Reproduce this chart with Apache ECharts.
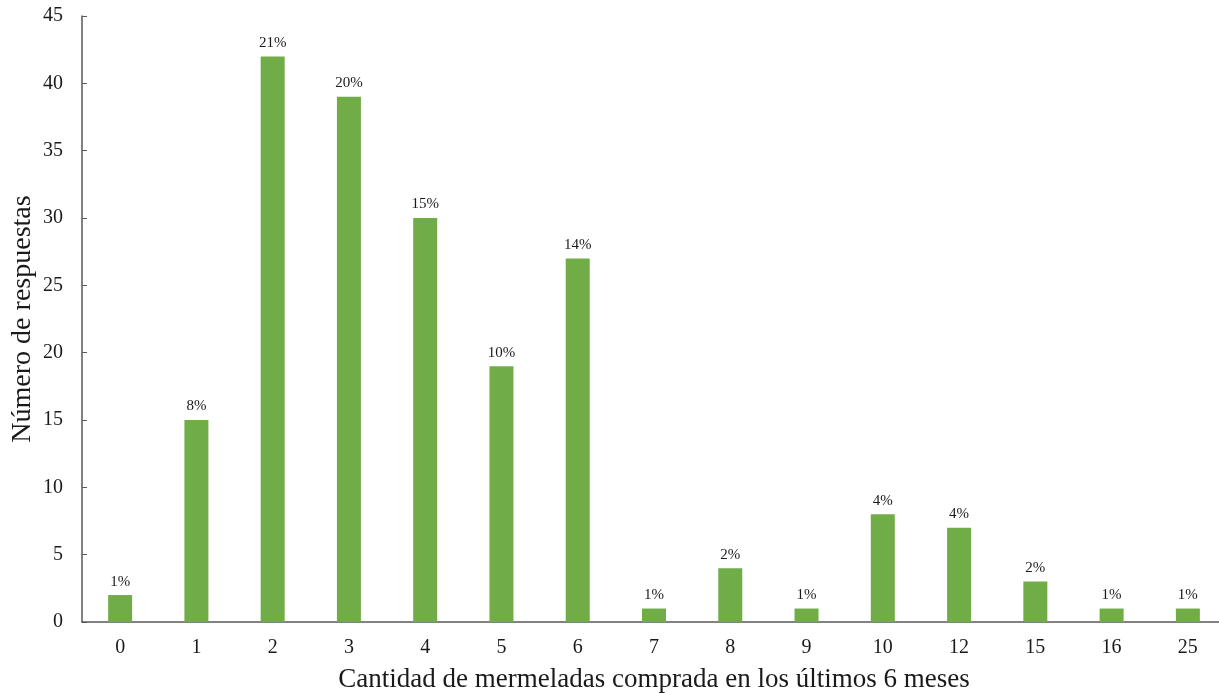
<!DOCTYPE html>
<html>
<head>
<meta charset="utf-8">
<script src="https://cdn.jsdelivr.net/npm/echarts@6/dist/echarts.min.js"></script>
<style>
  html, body { margin: 0; padding: 0; background: #fff; }
  #chart { width: 1219px; height: 693px; }
</style>
</head>
<body>
<div id="chart"></div>
<script>
// Jars of jam bought in the last 6 months: number of answers per quantity
const categories = ['0', '1', '2', '3', '4', '5', '6', '7', '8', '9', '10', '12', '15', '16', '25'];
const responses = [2, 15, 42, 39, 30, 19, 27, 1, 4, 1, 8, 7, 3, 1, 1];
const shareLabels = ['1%', '8%', '21%', '20%', '15%', '10%', '14%', '1%', '2%', '1%', '4%', '4%', '2%', '1%', '1%'];
const yTicks = { min: 0, max: 45, interval: 5 };

const serif = '"Liberation Serif", "DejaVu Serif", serif';
const chart = echarts.init(document.getElementById('chart'));

chart.setOption({
  backgroundColor: '#ffffff',
  animation: false,
  grid: { left: 82, top: 16, width: 1144, height: 606, containLabel: false, outerBoundsMode: 'none' },
  xAxis: {
    type: 'category',
    data: categories,
    name: 'Cantidad de mermeladas comprada en los últimos 6 meses',
    nameLocation: 'middle',
    nameGap: 44,
    nameMoveOverlap: false,
    nameTextStyle: { fontFamily: serif, fontSize: 27, color: '#1a1a1a' },
    axisLine: { lineStyle: { color: '#595959', width: 1.5 } },
    axisTick: { show: false },
    axisLabel: { fontFamily: serif, fontSize: 20, color: '#1a1a1a', margin: 16 }
  },
  yAxis: {
    type: 'value',
    min: yTicks.min,
    max: yTicks.max,
    interval: yTicks.interval,
    name: 'Número de respuestas',
    nameLocation: 'middle',
    nameGap: 45,
    nameMoveOverlap: false,
    nameTextStyle: { fontFamily: serif, fontSize: 28, color: '#1a1a1a' },
    axisLine: { show: true, lineStyle: { color: '#595959', width: 1.5 } },
    axisTick: { show: true, inside: true, length: 5, lineStyle: { color: '#595959' } },
    splitLine: { show: false },
    axisLabel: { fontFamily: serif, fontSize: 20, color: '#1a1a1a', margin: 19 }
  },
  series: [{
    type: 'bar',
    data: responses,
    barWidth: 24,
    itemStyle: { color: '#70ad47' },
    label: {
      show: true,
      position: 'top',
      distance: 6,
      fontFamily: serif,
      fontSize: 15,
      color: '#1a1a1a',
      formatter: p => shareLabels[p.dataIndex]
    }
  }]
});
</script>
</body>
</html>
